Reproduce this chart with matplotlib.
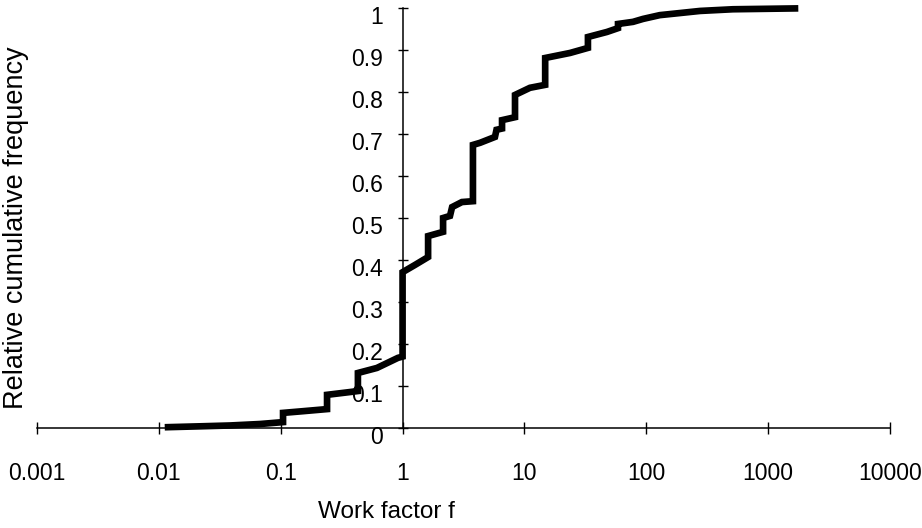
import numpy as np
import matplotlib

matplotlib.use("Agg")
import matplotlib.pyplot as plt
from matplotlib.transforms import ScaledTranslation

plt.rcParams["font.family"] = ["Liberation Sans", "DejaVu Sans"]

# cumulative curve (work factor, relative cumulative frequency)
wf = [0.0119, 0.0218, 0.0384, 0.0676, 0.1045, 0.1045, 0.152, 0.240, 0.240,
      0.38, 0.43, 0.43, 0.616, 0.916, 1.0, 1.0, 1.26, 1.62, 1.62, 2.15,
      2.15, 2.45, 2.55, 3.07, 3.78, 3.78, 4.32, 5.73, 5.9, 6.55, 6.55,
      8.37, 8.37, 11.1, 14.8, 14.8, 23.7, 33.2, 33.2, 47.6, 58.6, 58.6,
      77.8, 94, 129, 189, 276, 514, 1660]
cf = [0.002, 0.004, 0.006, 0.0095, 0.014, 0.036, 0.040, 0.045, 0.079,
      0.086, 0.088, 0.131, 0.143, 0.167, 0.170, 0.371, 0.388, 0.407, 0.457, 0.467,
      0.500, 0.505, 0.526, 0.538, 0.540, 0.674, 0.679, 0.693, 0.710, 0.713, 0.733,
      0.740, 0.793, 0.810, 0.817, 0.881, 0.893, 0.905, 0.931, 0.943, 0.952, 0.962,
      0.967, 0.974, 0.983, 0.988, 0.993, 0.997, 0.999]

xticks = [0.001, 0.01, 0.1, 1, 10, 100, 1000, 10000]
xticklabels = ["0.001", "0.01", "0.1", "1", "10", "100", "1000", "10000"]
yticks = [0, 0.1, 0.2, 0.3, 0.4, 0.5, 0.6, 0.7, 0.8, 0.9, 1]
yticklabels = ["0", "0.1", "0.2", "0.3", "0.4", "0.5", "0.6", "0.7", "0.8", "0.9", "1"]

W, H = 922, 528
fig = plt.figure(figsize=(W / 100, H / 100), dpi=100)
ax = fig.add_axes([37 / W, (H - 428) / H, (890 - 37) / W, 420 / H])

ax.plot(wf, cf, color="black", lw=4.8, clip_on=False, solid_joinstyle="miter")

ax.set_xscale("log")
ax.set_xlim(0.001, 10000)
ax.set_ylim(0, 1)

for s in ["top", "right"]:
    ax.spines[s].set_visible(False)
ax.spines["left"].set_position(("data", 1))
ax.spines["left"].set_linewidth(1.1)
ax.spines["bottom"].set_linewidth(1.1)

ax.set_xticks(xticks)
ax.xaxis.set_minor_locator(matplotlib.ticker.NullLocator())
ax.set_yticks(yticks)
ax.set_xticklabels([])
ax.set_yticklabels([])
ax.tick_params(axis="x", direction="inout", length=9, width=1)
ax.tick_params(axis="y", direction="inout", length=7.5, width=1)

fs = 16.5
offy = ax.transData + ScaledTranslation(-20 / 100, -10 / 100, fig.dpi_scale_trans)
for v, t in zip(yticks, yticklabels):
    ax.text(1, v, t, transform=offy, ha="right", va="center", fontsize=fs)

offx = ax.transData + ScaledTranslation(0, -45 / 100, fig.dpi_scale_trans)
for v, t in zip(xticks, xticklabels):
    ax.text(v, 0, t, transform=offx, ha="center", va="center", fontsize=fs,
            clip_on=False)

fig.text(386 / W, 1 - 512 / H, "Work factor f", ha="center", va="center",
         fontsize=17.5)
fig.text(16 / W, 1 - 228 / H, "Relative cumulative frequency", ha="center",
         va="center", rotation=90, fontsize=19.5)

fig.savefig("out.png", dpi=100)
